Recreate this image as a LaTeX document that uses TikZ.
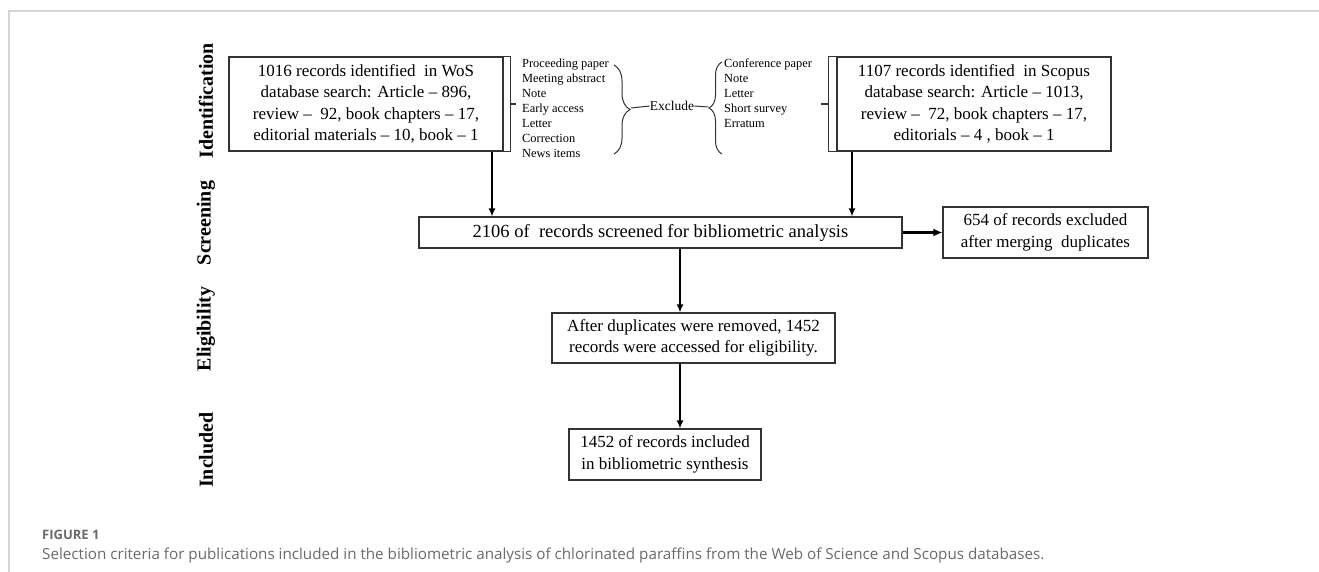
\documentclass[tikz,border=0pt]{standalone}
\usepackage{fontspec}
\setmainfont{Liberation Serif}
\newfontfamily\capfont{Open Sans}
\usetikzlibrary{arrows.meta,decorations.pathreplacing,calc}
\definecolor{framegray}{HTML}{D4D4D4}
\definecolor{capgray}{HTML}{6A6A6A}
\definecolor{boxline}{HTML}{333333}
\tikzset{
  box/.style={draw=boxline, line width=1.1pt, inner sep=0pt, align=center,
    font=\fontsize{17}{21.5}\selectfont},
  lst/.style={inner sep=0pt, align=left, anchor=north west,
    font=\fontsize{12.4}{15}\selectfont},
  phase/.style={rotate=90, inner sep=0pt, font=\fontsize{20}{22}\selectfont\bfseries},
  arr/.style={-{Latex[length=8pt,width=7pt]}, line width=1.7pt},
  thinl/.style={draw=boxline, line width=1.1pt},
  brc/.style={draw=boxline, line width=1pt, decorate},
  frame/.style={draw=framegray, line width=1.4pt}
}
\begin{document}
\begin{tikzpicture}[x=1pt,y=-1pt]
\useasboundingbox (0,0) rectangle (1319,572);
% frame
\coordinate (ftl) at (9,11);
\coordinate (ftr) at (1319,11);
\coordinate (fbl) at (9,572);
\draw[frame] (fbl) -- (ftl) -- (ftr);

% phase labels
\node[phase] (pid) at (206,101) {Identification};
\node[phase] (psc) at (206,223) {Screening};
\node[phase] (pel) at (206,329) {Eligibility};
\node[phase] (pin) at (206,450) {Included};

% WoS box
\node[box, minimum width=274pt, minimum height=94pt] (wos) at (366,104)
  {1016 records identified\ \ in WoS\\database search: Article -- 896,\\review --\ \ 92, book chapters -- 17,\\editorial materials -- 10, book -- 1};
\coordinate (wosbt) at ($(wos.north east)+(7,0)$);
\coordinate (wosbb) at ($(wos.south east)+(7,0)$);
\coordinate (wosbm) at ($(wos.east)+(7,0)$);
\coordinate (wostk) at ($(wos.east)+(12,0)$);
\draw[thinl] (wos.north east) -- (wosbt) -- (wosbb) -- (wos.south east);
\draw[thinl] (wosbm) -- (wostk);

% exclusion list 1
\node[lst] (l1) at (522,59) {Proceeding paper\\Meeting abstract\\Note\\Early access\\Letter\\Correction\\News items};
\coordinate (b1t) at (614,65);
\coordinate (b1b) at (614,154);
\draw[brc, decoration={brace, amplitude=16pt}] (b1t) -- (b1b);
\coordinate (b1tip) at (631,108);

% Exclude
\node[inner sep=0pt, font=\fontsize{13.5}{15}\selectfont] (ex) at (672,106) {Exclude};
\coordinate (b2tip) at (708,107);
\draw[line width=1pt, draw=boxline] (b1tip) -- (ex.west);
\draw[line width=1pt, draw=boxline] (ex.east) -- (b2tip);
\coordinate (b2t) at (722,62);
\coordinate (b2b) at (722,154);
\draw[brc, decoration={brace, amplitude=13pt}] (b2b) -- (b2t);

% exclusion list 2
\node[lst] (l2) at (724,59) {Conference paper\\Note\\Letter\\Short survey\\Erratum};

% Scopus box
\node[box, minimum width=274pt, minimum height=94pt] (sco) at (974,104)
  {1107 records identified\ \ in Scopus\\ database search: Article -- 1013,\\review --\ \ 72, book chapters -- 17,\\editorials -- 4 , book -- 1};
\coordinate (scbt) at ($(sco.north west)+(-8,0)$);
\coordinate (scbb) at ($(sco.south west)+(-8,0)$);
\coordinate (scbm) at ($(sco.west)+(-8,0)$);
\coordinate (sctk) at ($(sco.west)+(-15,0)$);
\draw[thinl] (sco.north west) -- (scbt) -- (scbb) -- (sco.south west);
\draw[thinl] (scbm) -- (sctk);

% screening
\node[box, minimum width=483pt, minimum height=31pt, font=\fontsize{18.5}{21}\selectfont] (scr) at (660.5,232.5)
  {2106 of\ \ records screened for bibliometric analysis};
% excluded duplicates
\node[box, minimum width=205pt, minimum height=51pt] (dup) at (1045.5,232.5)
  {654 of records excluded\\after merging\ \ duplicates};
% eligibility
\node[box, minimum width=283pt, minimum height=50pt] (eli) at (693.5,338)
  {After duplicates were removed, 1452\\records were accessed for eligibility.};
% included
\node[box, minimum width=192pt, minimum height=51pt] (inc) at (665,454.5)
  {1452 of records included\\in bibliometric synthesis};

% connectors
\draw[arr] ([xshift=126pt]wos.south) -- ([xshift=126pt]wos.south |- scr.north);
\draw[arr] ([xshift=-122pt]sco.south) -- ([xshift=-122pt]sco.south |- scr.north);
\draw[-{Latex[length=9pt,width=8pt]}, line width=2.8pt] (scr.east) -- (dup.west);
\draw[arr] ([xshift=19.5pt]scr.south) -- ([xshift=19.5pt]scr.south |- eli.north);
\draw[arr] ([xshift=-13.5pt]eli.south) -- ([xshift=-13.5pt]eli.south |- inc.north);

% caption
\node[anchor=base west, inner sep=0pt, text=capgray, font=\capfont\fontsize{13}{15}\selectfont\bfseries] (fig) at (42,539) {FIGURE 1};
\node[anchor=base west, inner sep=0pt, text=capgray, font=\capfont\fontsize{15.2}{18}\selectfont] (cap) at (42,559)
  {Selection criteria for publications included in the bibliometric analysis of chlorinated paraffins from the Web of Science and Scopus databases.};
\end{tikzpicture}
\end{document}
